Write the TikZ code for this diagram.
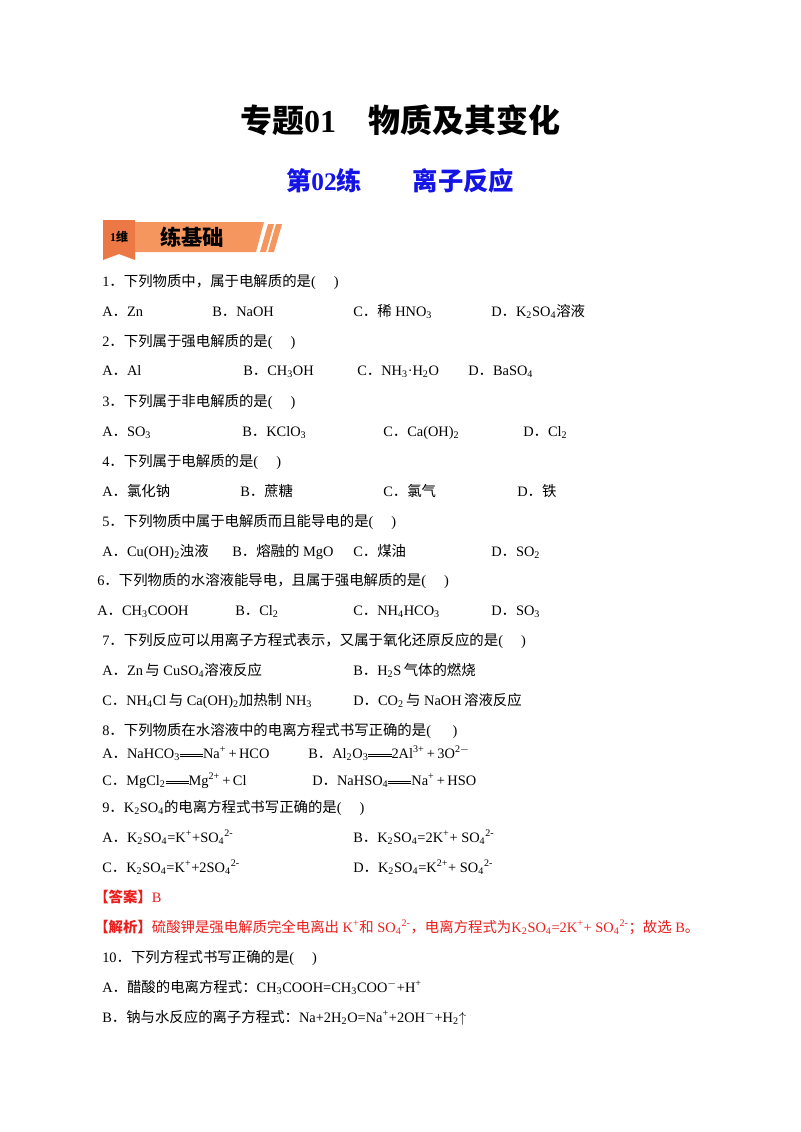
\documentclass[tikz,border=0pt]{standalone}
\usepackage{fontspec}
\setmainfont{Liberation Serif}
\newfontfamily\cjk{Noto Sans CJK SC}
\newcommand\zh[1]{{\cjk #1}}
\newcommand\up[1]{\textsuperscript{#1}}
\newcommand\dn[1]{\textsubscript{#1}}
\newcommand\eqq{\raisebox{0.25ex}{\rule{1.6em}{0.4pt}}\kern-1.6em\raisebox{0.6ex}{\rule{1.6em}{0.4pt}}}
\definecolor{bannerA}{RGB}{245,150,95}
\definecolor{bannerB}{RGB}{236,120,70}
\definecolor{ansred}{RGB}{235,30,30}
\definecolor{titleblue}{RGB}{20,20,230}
\begin{document}
\begin{tikzpicture}[x=0.75pt,y=-0.75pt,
 t/.style={anchor=base west,inner sep=0pt,font=\fontsize{10.8}{12}\selectfont},
 r/.style={t,text=ansred}]
\useasboundingbox (0,0) rectangle (800,1132);
\fill[white] (0,0) rectangle (800,1132);
\node[inner sep=0pt,font=\fontsize{24}{28}\selectfont\bfseries] (title) at (400,120) {\zh{\bfseries 专题}01\quad\zh{\bfseries 物质及其变化}};
\node[inner sep=0pt,font=\fontsize{19}{22}\selectfont\bfseries,text=titleblue] (sub) at (400,181) {\zh{\bfseries 第}02\zh{\bfseries 练}\qquad\zh{\bfseries 离子反应}};
% banner
\fill[bannerA] (135,222) -- (264,222) -- (256,252) -- (135,252) -- cycle;
\fill[bannerA] (268,224) -- (274,224) -- (266,252) -- (260,252) -- cycle;
\fill[bannerA] (276,224) -- (282,224) -- (274,252) -- (268,252) -- cycle;
\fill[bannerB] (103,220) -- (135,220) -- (135,260) -- (119,254) -- (103,260) -- cycle;
\node[inner sep=0pt,font=\fontsize{9}{10}\selectfont\bfseries] (b1) at (119,237) {1\zh{\bfseries 维}};
\node[inner sep=0pt,font=\fontsize{16}{18}\selectfont\cjk\bfseries] (b2) at (192,237) {练基础};
% questions
\node[t] (q1) at (102,286) {1\zh{．下列物质中，属于电解质的是}(\quad\ )};
\node[t] (q1a) at (102,316) {A\zh{．}Zn};
\node[t] (q1b) at (212,316) {B\zh{．}NaOH};
\node[t] (q1c) at (353,316) {C\zh{．稀} HNO\dn3};
\node[t] (q1d) at (491,316) {D\zh{．}K\dn2SO\dn4\zh{溶液}};
\node[t] (q2) at (102,346) {2\zh{．下列属于强电解质的是}(\quad\ )};
\node[t] (q2a) at (102,375) {A\zh{．}Al};
\node[t] (q2b) at (243,375) {B\zh{．}CH\dn3OH};
\node[t] (q2c) at (357,375) {C\zh{．}NH\dn3·H\dn2O};
\node[t] (q2d) at (468,375) {D\zh{．}BaSO\dn4};
\node[t] (q3) at (102,406) {3\zh{．下列属于非电解质的是}(\quad\ )};
\node[t] (q3a) at (102,436) {A\zh{．}SO\dn3};
\node[t] (q3b) at (242,436) {B\zh{．}KClO\dn3};
\node[t] (q3c) at (383,436) {C\zh{．}Ca(OH)\dn2};
\node[t] (q3d) at (523,436) {D\zh{．}Cl\dn2};
\node[t] (q4) at (102,466) {4\zh{．下列属于电解质的是}(\quad\ )};
\node[t] (q4a) at (102,496) {A\zh{．氯化钠}};
\node[t] (q4b) at (240,496) {B\zh{．蔗糖}};
\node[t] (q4c) at (383,496) {C\zh{．氯气}};
\node[t] (q4d) at (517,496) {D\zh{．铁}};
\node[t] (q5) at (102,526) {5\zh{．下列物质中属于电解质而且能导电的是}(\quad\ )};
\node[t] (q5a) at (102,556) {A\zh{．}Cu(OH)\dn2\zh{浊液}};
\node[t] (q5b) at (232,556) {B\zh{．熔融的} MgO};
\node[t] (q5c) at (353,556) {C\zh{．煤油}};
\node[t] (q5d) at (491,556) {D\zh{．}SO\dn2};
\node[t] (q6) at (97,585) {6\zh{．下列物质的水溶液能导电，且属于强电解质的是}(\quad\ )};
\node[t] (q6a) at (97,615) {A\zh{．}CH\dn3COOH};
\node[t] (q6b) at (235,615) {B\zh{．}Cl\dn2};
\node[t] (q6c) at (353,615) {C\zh{．}NH\dn4HCO\dn3};
\node[t] (q6d) at (491,615) {D\zh{．}SO\dn3};
\node[t] (q7) at (102,645) {7\zh{．下列反应可以用离子方程式表示，又属于氧化还原反应的是}(\quad\ )};
\node[t] (q7a) at (102,675) {A\zh{．}Zn\,\zh{与} CuSO\dn4\zh{溶液反应}};
\node[t] (q7b) at (353,675) {B\zh{．}H\dn2S\,\zh{气体的燃烧}};
\node[t] (q7c) at (102,705) {C\zh{．}NH\dn4Cl\,\zh{与} Ca(OH)\dn2\zh{加热制} NH\dn3};
\node[t] (q7d) at (353,705) {D\zh{．}CO\dn2\,\zh{与} NaOH\,\zh{溶液反应}};
\node[t] (q8) at (102,735) {8\zh{．下列物质在水溶液中的电离方程式书写正确的是}(\quad\ \ )};
\node[t] (q8a) at (102,758) {A\zh{．}NaHCO\dn3\eqq Na\up{+}\,+\,HCO};
\node[t] (q8b) at (308,758) {B\zh{．}Al\dn2O\dn3\eqq 2Al\up{3+}\,+\,3O\up{2$-$}};
\node[t] (q8c) at (102,785) {C\zh{．}MgCl\dn2\eqq Mg\up{2+}\,+\,Cl};
\node[t] (q8d) at (312,785) {D\zh{．}NaHSO\dn4\eqq Na\up{+}\,+\,HSO};
\node[t] (q9) at (102,812) {9\zh{．}K\dn2SO\dn4\zh{的电离方程式书写正确的是}(\quad\ )};
\node[t] (q9a) at (102,842) {A\zh{．}K\dn2SO\dn4=K\up{+}+SO\dn4\up{2-}};
\node[t] (q9b) at (353,842) {B\zh{．}K\dn2SO\dn4=2K\up{+}+ SO\dn4\up{2-}};
\node[t] (q9c) at (102,872) {C\zh{．}K\dn2SO\dn4=K\up{+}+2SO\dn4\up{2-}};
\node[t] (q9d) at (353,872) {D\zh{．}K\dn2SO\dn4=K\up{2+}+ SO\dn4\up{2-}};
\node[r] (ans) at (94,902) {\zh{\bfseries 【答案】}B};
\node[r] (exp) at (94,932) {\zh{\bfseries 【解析】}\zh{硫酸钾是强电解质完全电离出} K\up{+}\zh{和} SO\dn4\up{2-}\zh{，电离方程式为}K\dn2SO\dn4=2K\up{+}+ SO\dn4\up{2-}\zh{；故选} B\zh{。}};
\node[t] (q10) at (102,962) {10\zh{．下列方程式书写正确的是}(\quad\ )};
\node[t] (q10a) at (102,992) {A\zh{．醋酸的电离方程式：}CH\dn3COOH=CH\dn3COO\up{$-$}+H\up{+}};
\node[t] (q10b) at (102,1022) {B\zh{．钠与水反应的离子方程式：}Na+2H\dn2O=Na\up{+}+2OH\up{$-$}+H\dn2$\uparrow$};
\end{tikzpicture}
\end{document}
